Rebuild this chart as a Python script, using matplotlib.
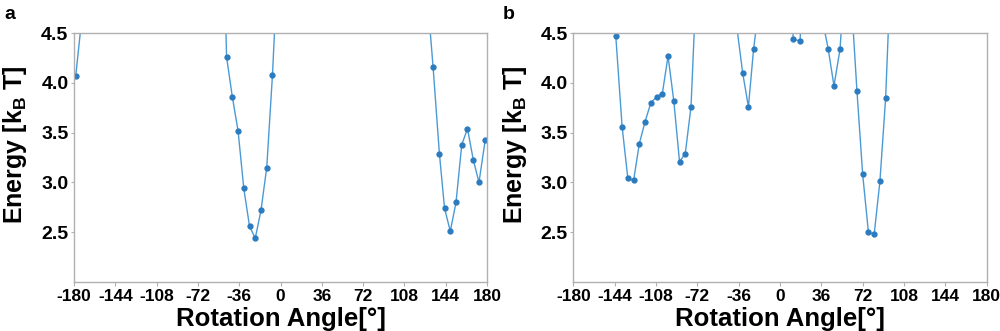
import matplotlib
matplotlib.use("Agg")
import matplotlib.pyplot as plt

plt.rcParams['font.family'] = ['Liberation Sans', 'DejaVu Sans']

# panel a: rotation angle [deg] vs energy [kB T]; values above 4.5 run off the top
angle_a = [-178.5, -173, -52, -47, -42, -37, -32, -27, -22, -17, -12, -7, -2,
           128, 133, 138.5, 143, 148, 153, 158, 163, 168, 173, 178.5]
energy_a = [4.07, 4.67, 6.5, 4.26, 3.86, 3.52, 2.94, 2.56, 2.44, 2.72, 3.15, 4.08, 5.3,
            4.87, 4.16, 3.29, 2.74, 2.51, 2.80, 3.38, 3.54, 3.23, 3.00, 3.43]

# panel b
angle_b = [-148, -143, -137.5, -132.5, -127.5, -122.5, -117.5, -112.5, -107.5, -102.5,
           -97.5, -92.5, -87.5, -82.5, -77.5, -72.5,
           -37.5, -32.5, -27.5, -23, -18,
           6.5, 11.5, 17.5, 22.5,
           37, 42, 47, 52.3, 57,
           62, 67, 72, 77, 82, 87, 92, 97]
energy_b = [6.5, 4.47, 3.56, 3.04, 3.02, 3.39, 3.61, 3.80, 3.86, 3.89,
            4.27, 3.82, 3.21, 3.29, 3.76, 5.1,
            4.55, 4.10, 3.76, 4.34, 4.8,
            6.0, 4.44, 4.42, 6.0,
            4.63, 4.34, 3.97, 4.34, 5.2,
            4.86, 3.92, 3.08, 2.50, 2.48, 3.01, 3.85, 5.3]

xticks = [-180, -144, -108, -72, -36, 0, 36, 72, 108, 144, 180]
yticks = [2.5, 3.0, 3.5, 4.0, 4.5]

fig = plt.figure(figsize=(10, 3.31), dpi=100)
ax_a = fig.add_axes([0.074, 0.148, 0.413, 0.752])
ax_b = fig.add_axes([0.5733, 0.148, 0.4134, 0.752])

for ax, x, y in [(ax_a, angle_a, energy_a), (ax_b, angle_b, energy_b)]:
    ax.plot(x, y, color='#4a9ad6', lw=1.0, marker='o', markersize=3.5,
            markerfacecolor='#2a7bbf', markeredgecolor='#2a7bbf')
    ax.set_xlim(-180, 180)
    ax.set_ylim(2.0, 4.5)
    ax.set_xticks(xticks)
    ax.set_xticklabels([str(t) for t in xticks])
    ax.set_yticks(yticks)
    ax.set_yticklabels(['%.1f' % t for t in yticks])
    ax.tick_params(axis='x', labelsize=12.5, length=3, width=0.8, color='#b0b0b0', pad=2)
    ax.tick_params(axis='y', labelsize=14, length=2, width=0.8, color='#b0b0b0', pad=2)
    for lbl in ax.get_xticklabels() + ax.get_yticklabels():
        lbl.set_fontweight('bold')
    for s in ax.spines.values():
        s.set_color('#b0b0b0')
        s.set_linewidth(1.0)
    ax.set_xlabel('Rotation Angle[°]', fontsize=18.5, fontweight='bold', labelpad=2)
    ax.set_ylabel(r'Energy [k$_\mathregular{B}$ T]', fontsize=18, fontweight='bold')
    ax.yaxis.set_label_coords(-0.108, 0.55)

fig.text(0.004, 0.955, 'a', fontsize=14, fontweight='bold', va='center')
fig.text(0.503, 0.955, 'b', fontsize=14, fontweight='bold', va='center')

fig.savefig('out.png', dpi=100)
